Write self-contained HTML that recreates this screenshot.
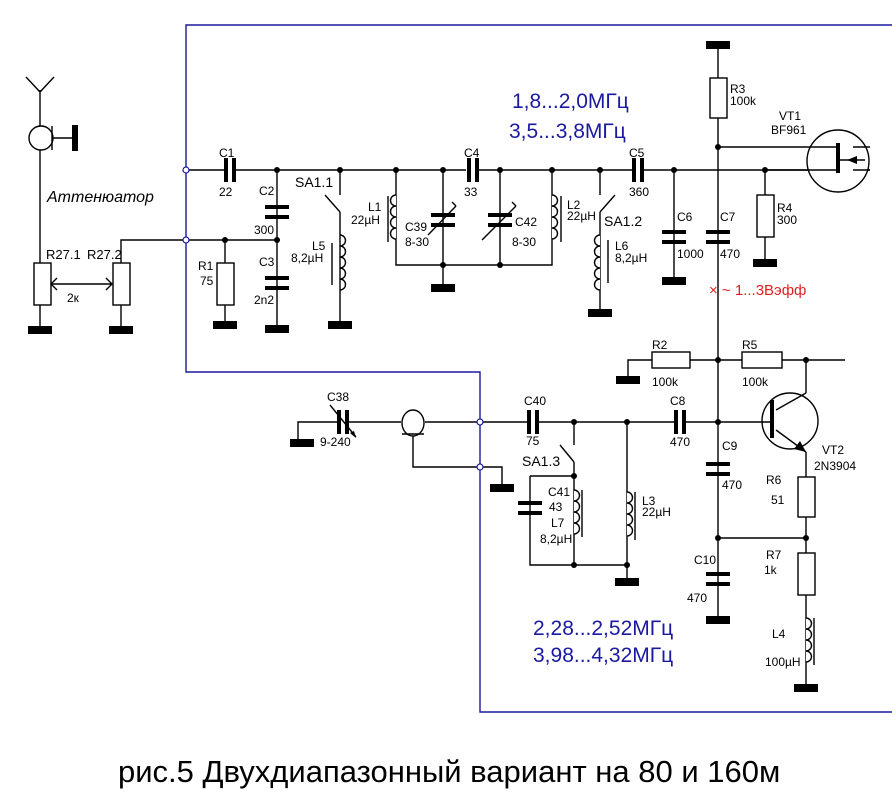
<!DOCTYPE html>
<html><head><meta charset="utf-8"><style>
body{margin:0;background:#fff}
svg{display:block}
text{font-family:"Liberation Sans",sans-serif;font-size:12px;fill:#000}
.b{font-size:21px;fill:#1a1aa0}
</style></head><body>
<svg width="892" height="806" viewBox="0 0 892 806" xmlns="http://www.w3.org/2000/svg">
<defs>
<g id="gnd"><rect x="-12" y="-4" width="24" height="8" fill="#000"/></g>
<g id="capv"><rect x="-12" y="-6" width="24" height="4" fill="#000"/><rect x="-12" y="4" width="24" height="4" fill="#000"/></g>
<g id="caph"><rect x="-6" y="-12" width="4" height="24" fill="#000"/><rect x="2" y="-12" width="4" height="24" fill="#000"/></g>
</defs>
<g stroke="#1a1a9a" stroke-width="1.4" fill="none">
<polyline points="892,25 186,25 186,372 480,372 480,712 892,712"/>
</g>
<g stroke="#000" stroke-width="1.4" fill="none">
<line x1="40" y1="90" x2="40" y2="263"/><line x1="26" y1="77" x2="40" y2="92"/><line x1="54" y1="77" x2="40" y2="92"/>
<circle cx="41" cy="138" r="12" fill="#fff"/><line x1="52" y1="126" x2="52" y2="150"/><line x1="52" y1="138" x2="72" y2="138"/>
<rect x="34" y="263" width="17" height="42" fill="#fff"/><line x1="40" y1="305" x2="40" y2="330"/>
<rect x="113" y="263" width="17" height="42" fill="#fff"/><line x1="121" y1="305" x2="121" y2="330"/>
<line x1="51" y1="284" x2="112" y2="284"/><polyline points="57,278 51,284 57,290"/><polyline points="106,278 112,284 106,290"/>
<polyline points="121,263 121,240 277,240"/>
<line x1="186" y1="170" x2="224" y2="170"/><line x1="236" y1="170" x2="466" y2="170"/><line x1="479" y1="170" x2="632" y2="170"/><line x1="644" y1="170" x2="870" y2="170"/>
<line x1="225" y1="240" x2="225" y2="325"/><rect x="217" y="263" width="17" height="42" fill="#fff"/>
<line x1="277" y1="170" x2="277" y2="329"/>
<line x1="340" y1="170" x2="340" y2="195"/><line x1="325" y1="195" x2="340" y2="212"/><line x1="340" y1="212" x2="340" y2="325"/>
<path d="M340,235 a5,5 0 0 1 0,11 a5,5 0 0 1 0,11 a5,5 0 0 1 0,11 a5,5 0 0 1 0,11 a5,5 0 0 1 0,11"/><line x1="332" y1="243" x2="332" y2="285"/>
<polyline points="396,170 396,265 552,265 552,170"/>
<path d="M396,195 a5,5 0 0 0 0,11 a5,5 0 0 0 0,11 a5,5 0 0 0 0,11 a5,5 0 0 0 0,11" fill="#fff"/><line x1="388" y1="196" x2="388" y2="242"/>
<path d="M552,195 a5,5 0 0 1 0,11 a5,5 0 0 1 0,11 a5,5 0 0 1 0,11 a5,5 0 0 1 0,11" fill="#fff"/><line x1="561" y1="196" x2="561" y2="242"/>
<line x1="443" y1="170" x2="443" y2="288"/><line x1="500" y1="170" x2="500" y2="265"/>
<line x1="428" y1="235" x2="456" y2="206"/><line x1="456" y1="206" x2="452" y2="202"/>
<line x1="482" y1="240" x2="516" y2="206"/><line x1="516" y1="206" x2="512" y2="202"/>
<line x1="600" y1="170" x2="600" y2="195"/><line x1="615" y1="195" x2="600" y2="212"/><line x1="600" y1="212" x2="600" y2="313"/>
<path d="M600,235 a5,5 0 0 0 0,11 a5,5 0 0 0 0,11 a5,5 0 0 0 0,11 a5,5 0 0 0 0,11 a5,5 0 0 0 0,11" fill="#fff"/><line x1="608" y1="240" x2="608" y2="283"/>
<line x1="674" y1="170" x2="674" y2="281"/>
<line x1="718" y1="45" x2="718" y2="538"/>
<rect x="710" y="78" width="17" height="40" fill="#fff"/>
<line x1="765" y1="170" x2="765" y2="263"/><rect x="757" y="195" width="17" height="42" fill="#fff"/>
<circle cx="838" cy="161" r="31" fill="#fff"/>
<line x1="718" y1="147" x2="838" y2="147"/><line x1="765" y1="170" x2="838" y2="170"/>
<line x1="853" y1="147" x2="870" y2="147"/><line x1="853" y1="170" x2="870" y2="170"/>
<line x1="840" y1="160" x2="865" y2="160"/>
<polyline points="628,380 628,360 845,360"/>
<rect x="652" y="352" width="38" height="16" fill="#fff"/><rect x="742" y="352" width="40" height="16" fill="#fff"/>
<circle cx="790" cy="421" r="28" fill="#fff"/>
<line x1="718" y1="422" x2="772" y2="422"/>
<line x1="806" y1="360" x2="806" y2="393"/><line x1="806" y1="393" x2="776" y2="410"/>
<line x1="776" y1="430" x2="806" y2="452"/><line x1="806" y1="452" x2="806" y2="688"/>
<rect x="798" y="477" width="17" height="40" fill="#fff"/>
<rect x="798" y="553" width="17" height="42" fill="#fff"/>
<line x1="718" y1="538" x2="806" y2="538"/>
<path d="M806,618 a5,5 0 0 1 0,11 a5,5 0 0 1 0,11 a5,5 0 0 1 0,11 a5,5 0 0 1 0,11" fill="#fff"/><line x1="814" y1="618" x2="814" y2="665"/>
<line x1="718" y1="538" x2="718" y2="620"/>
<polyline points="298,443 298,422 337,422"/><line x1="349" y1="422" x2="401" y2="422"/><line x1="425" y1="422" x2="527" y2="422"/><line x1="539" y1="422" x2="674" y2="422"/><line x1="686" y1="422" x2="718" y2="422"/>
<line x1="330" y1="405" x2="356" y2="437"/>
<ellipse cx="413" cy="423" rx="11" ry="13" fill="#fff"/>
<polyline points="402,434 424,434"/>
<polyline points="413,436 413,467 502,467 502,488"/>
<line x1="574" y1="422" x2="574" y2="445"/><line x1="560" y1="445" x2="574" y2="462"/>
<polyline points="574,462 574,565"/>
<polyline points="530,476 574,476"/><polyline points="530,476 530,565 627,565"/>
<line x1="627" y1="422" x2="627" y2="582"/>
<path d="M574,490 a5,5 0 0 1 0,11 a5,5 0 0 1 0,11 a5,5 0 0 1 0,11 a5,5 0 0 1 0,11" fill="#fff"/><line x1="582" y1="490" x2="582" y2="537"/>
<path d="M627,492 a5,5 0 0 1 0,11 a5,5 0 0 1 0,11 a5,5 0 0 1 0,11 a5,5 0 0 1 0,11" fill="#fff"/><line x1="635" y1="492" x2="635" y2="540"/>
</g>
<rect x="836" y="143" width="4" height="30" fill="#000"/>
<polygon points="847,160 857,156 857,164" fill="#000"/>
<rect x="770" y="400" width="4" height="38" fill="#000"/>
<polygon points="806,452 794,449 800,441" fill="#000"/>
<polygon points="356,438 350,433 354,431" fill="#000"/>
<rect x="72" y="125" width="6" height="26" fill="#000"/>
<use href="#caph" x="230" y="170"/><use href="#caph" x="473" y="170"/><use href="#caph" x="638" y="170"/>
<use href="#caph" x="343" y="422"/><use href="#caph" x="533" y="422"/><use href="#caph" x="680" y="422"/>
<use href="#capv" x="277" y="211"/><use href="#capv" x="277" y="282"/>
<use href="#capv" x="443" y="219"/><use href="#capv" x="500" y="219"/>
<use href="#capv" x="674" y="236"/><use href="#capv" x="718" y="236"/>
<use href="#capv" x="718" y="468"/><use href="#capv" x="718" y="578"/>
<use href="#capv" x="530" y="507"/>
<use href="#gnd" x="40" y="330"/><use href="#gnd" x="121" y="330"/><use href="#gnd" x="225" y="325"/><use href="#gnd" x="277" y="329"/>
<use href="#gnd" x="340" y="325"/><use href="#gnd" x="443" y="288"/><use href="#gnd" x="600" y="313"/><use href="#gnd" x="674" y="281"/>
<use href="#gnd" x="718" y="45"/><use href="#gnd" x="765" y="263"/><use href="#gnd" x="628" y="380"/><use href="#gnd" x="302" y="443"/>
<use href="#gnd" x="502" y="488"/><use href="#gnd" x="627" y="582"/><use href="#gnd" x="718" y="620"/><use href="#gnd" x="806" y="688"/>
<g fill="#000">
<circle cx="277" cy="170" r="3"/><circle cx="340" cy="170" r="3"/><circle cx="396" cy="170" r="3"/><circle cx="443" cy="170" r="3"/>
<circle cx="500" cy="170" r="3"/><circle cx="552" cy="170" r="3"/><circle cx="600" cy="170" r="3"/><circle cx="674" cy="170" r="3"/><circle cx="765" cy="170" r="3"/>
<circle cx="225" cy="240" r="3"/><circle cx="277" cy="240" r="3"/><circle cx="443" cy="265" r="3"/><circle cx="500" cy="265" r="3"/>
<circle cx="718" cy="147" r="3"/><circle cx="718" cy="360" r="3"/><circle cx="806" cy="360" r="3"/><circle cx="718" cy="422" r="3"/>
<circle cx="574" cy="422" r="3"/><circle cx="627" cy="422" r="3"/><circle cx="574" cy="476" r="3"/><circle cx="574" cy="565" r="3"/><circle cx="627" cy="565" r="3"/>
<circle cx="718" cy="538" r="3"/><circle cx="806" cy="538" r="3"/>
</g>
<g fill="#fff" stroke="#1a1a9a" stroke-width="1.2">
<circle cx="186" cy="170" r="3"/><circle cx="186" cy="240" r="3"/><circle cx="480" cy="422" r="3"/><circle cx="480" cy="467" r="3"/>
</g>
<text x="47" y="202" style="font-size:16px;font-style:italic">Аттенюатор</text>
<text x="46" y="259" style="font-size:13px">R27.1</text><text x="87" y="259" style="font-size:13px">R27.2</text><text x="67" y="302">2к</text>
<text x="219" y="157">C1</text><text x="219" y="196">22</text>
<text x="259" y="195">C2</text><text x="254" y="234">300</text><text x="259" y="266">C3</text><text x="254" y="304">2n2</text>
<text x="198" y="270">R1</text><text x="200" y="285">75</text>
<text x="295" y="187" style="font-size:14px">SA1.1</text>
<text x="312" y="250">L5</text><text x="291" y="262">8,2µH</text>
<text x="368" y="211">L1</text><text x="351" y="224">22µH</text>
<text x="405" y="231">C39</text><text x="405" y="246">8-30</text>
<text x="464" y="157">C4</text><text x="464" y="196">33</text>
<text x="515" y="226">C42</text><text x="512" y="246">8-30</text>
<text x="567" y="209">L2</text><text x="567" y="220">22µH</text>
<text x="604" y="226" style="font-size:14px">SA1.2</text>
<text x="615" y="250">L6</text><text x="615" y="262">8,2µH</text>
<text x="629" y="157">C5</text><text x="629" y="196">360</text>
<text x="677" y="221">C6</text><text x="677" y="258">1000</text>
<text x="720" y="221">C7</text><text x="720" y="258">470</text>
<text x="730" y="93">R3</text><text x="730" y="105">100k</text>
<text x="779" y="120">VT1</text><text x="771" y="134">BF961</text>
<text x="777" y="212">R4</text><text x="777" y="224">300</text>
<text class="b" x="512" y="108">1,8...2,0МГц</text><text class="b" x="509" y="138">3,5...3,8МГц</text>
<text x="709" y="295" style="font-size:15px;fill:#e02020">× ~ 1...3Вэфф</text>
<text x="652" y="349">R2</text><text x="652" y="386">100k</text><text x="742" y="349">R5</text><text x="742" y="386">100k</text>
<text x="327" y="401">C38</text><text x="320" y="446">9-240</text>
<text x="524" y="405">C40</text><text x="526" y="445">75</text>
<text x="670" y="405">C8</text><text x="670" y="446">470</text>
<text x="522" y="466" style="font-size:14px">SA1.3</text>
<text x="548" y="496">C41</text><text x="549" y="511">43</text><text x="551" y="527">L7</text><text x="540" y="543">8,2µH</text>
<text x="642" y="505">L3</text><text x="642" y="516">22µH</text>
<text x="722" y="450">C9</text><text x="722" y="489">470</text>
<text x="694" y="564">C10</text><text x="687" y="602">470</text>
<text x="822" y="454">VT2</text><text x="814" y="470">2N3904</text>
<text x="766" y="484">R6</text><text x="771" y="504">51</text>
<text x="766" y="559">R7</text><text x="764" y="574">1k</text>
<text x="772" y="638">L4</text><text x="765" y="666">100µH</text>
<text class="b" x="533" y="635">2,28...2,52МГц</text><text class="b" x="533" y="662">3,98...4,32МГц</text>
<text x="118" y="782" style="font-size:31px">рис.5 Двухдиапазонный вариант на 80 и 160м</text>
</svg>
</body></html>
